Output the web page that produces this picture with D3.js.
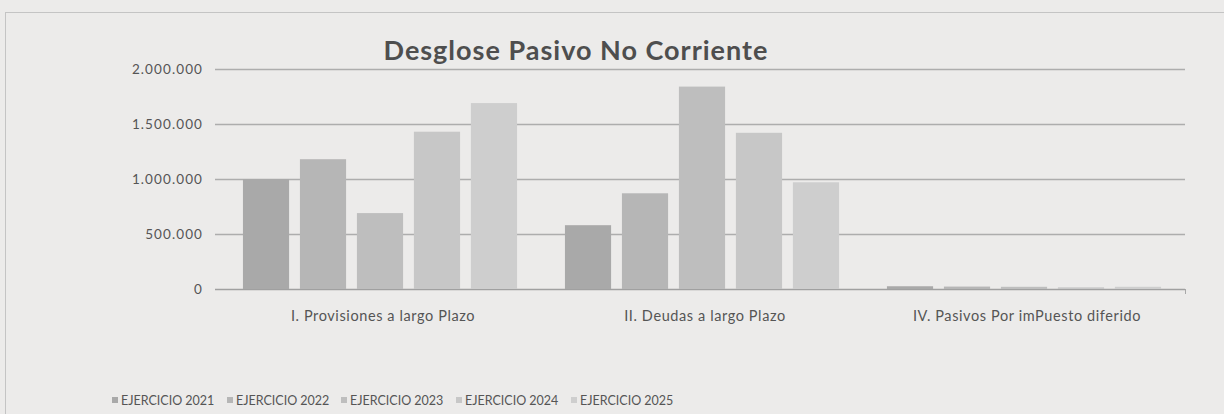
<!DOCTYPE html>
<html><head><meta charset="utf-8">
<script src="https://cdn.jsdelivr.net/npm/d3@7"></script>
<style>html,body{margin:0;padding:0;background:#ebebea;}svg{display:block;}</style>
</head><body>
<script>
const categories = ["I. Provisiones a largo Plazo", "II. Deudas a largo Plazo", "IV. Pasivos Por imPuesto diferido"];
const series = ["EJERCICIO 2021", "EJERCICIO 2022", "EJERCICIO 2023", "EJERCICIO 2024", "EJERCICIO 2025"];
const v2021 = [1000000, 580000, 25000];
const v2022 = [1180000, 870000, 22000];
const v2023 = [690000, 1840000, 20000];
const v2024 = [1430000, 1420000, 15000];
const v2025 = [1690000, 970000, 20000];
const seriesValues = [v2021, v2022, v2023, v2024, v2025];
const yTicks = [0, 500000, 1000000, 1500000, 2000000];
const colors = ["#a9a9a9", "#b6b6b6", "#bebebe", "#c7c7c7", "#cecece"];

const W = 1224, H = 414;
const svg = d3.select("body").append("svg").attr("width", W).attr("height", H);
svg.append("rect").attr("width", W).attr("height", H).attr("fill", "#ecebea");
svg.append("rect").attr("x", 5.5).attr("y", 12.5).attr("width", W - 4).attr("height", H).attr("fill", "none").attr("stroke", "#c4c4c4");

const font = "Lato, 'Open Sans', sans-serif";
const x0 = d3.scaleBand().domain(categories).range([219, 1185]).paddingInner(0).paddingOuter(0);
const x1 = d3.scaleBand().domain(series).range([0, x0.bandwidth()]).paddingInner(0.19).paddingOuter(0.42);
const y = d3.scaleLinear().domain([0, 2000000]).range([289, 69]);

const fmt = v => d3.format(",")(v).replace(/,/g, ".");

// gridlines
svg.append("g").selectAll("line").data(yTicks).join("line")
  .attr("x1", 215).attr("x2", 1185)
  .attr("y1", d => Math.round(y(d)) + 0.5).attr("y2", d => Math.round(y(d)) + 0.5)
  .attr("stroke", d => d === 0 ? "#a0a0a0" : "#adadad").attr("stroke-width", 1.3);
svg.append("line").attr("x1", 1185.5).attr("x2", 1185.5).attr("y1", y(0)).attr("y2", y(0) + 5).attr("stroke", "#a8a8a8");

// y axis labels
const yAxis = d3.axisLeft(y).tickValues(yTicks).tickFormat(fmt).tickSize(0).tickPadding(0);
const ga = svg.append("g").attr("transform", "translate(203,0)").call(yAxis);
ga.select(".domain").remove();
ga.selectAll("text").attr("font-family", font).attr("font-size", 13.5).attr("letter-spacing", "1.1px").attr("fill", "#555");

// bars
const groups = svg.append("g").selectAll("g").data(categories).join("g")
  .attr("transform", d => `translate(${x0(d)},0)`);
groups.selectAll("rect").data((c, ci) => series.map((s, si) => ({s, si, v: seriesValues[si][ci]}))).join("rect")
  .attr("x", d => x1(d.s)).attr("width", x1.bandwidth())
  .attr("y", d => y(d.v)).attr("height", d => y(0) - y(d.v))
  .attr("fill", d => colors[d.si]);

// category labels
const xAxis = d3.axisBottom(x0).tickSize(0).tickPadding(0);
const gx = svg.append("g").attr("transform", "translate(3,311)").call(xAxis);
gx.select(".domain").remove();
gx.selectAll("text").attr("font-family", font).attr("font-size", 14.5).attr("letter-spacing", "0.6px").attr("fill", "#555");

// title
svg.append("text").attr("x", 576).attr("y", 60).attr("text-anchor", "middle")
  .attr("font-family", font).attr("font-weight", "bold").attr("font-size", 27).attr("letter-spacing", "1px").attr("fill", "#4e4e4e")
  .text("Desglose Pasivo No Corriente");

// legend
const legendX = [112, 227, 341, 456, 571];
const lg = svg.append("g").selectAll("g").data(series).join("g")
  .attr("transform", (d, i) => `translate(${legendX[i]},405)`);
lg.append("rect").attr("x", 0).attr("y", -8).attr("width", 6).attr("height", 6).attr("fill", (d, i) => colors[i]);
lg.append("text").attr("x", 9).attr("y", 0).attr("font-family", font).attr("font-size", 12.5).attr("fill", "#555").text(d => d);
</script>
</body></html>
